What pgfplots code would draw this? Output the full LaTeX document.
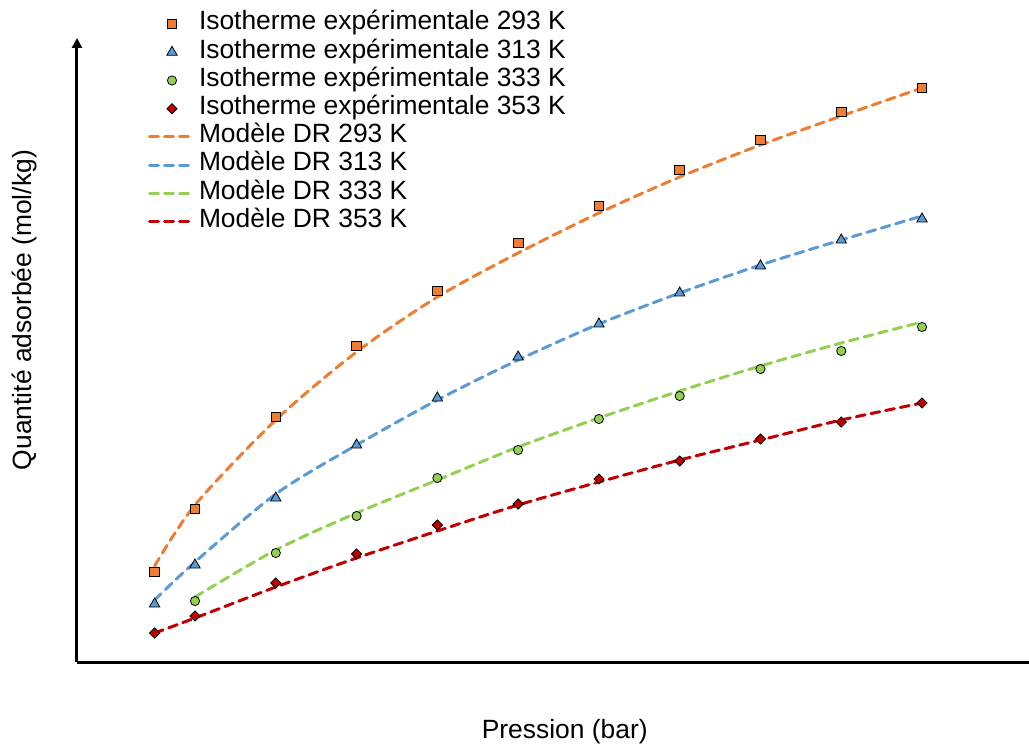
\documentclass[border=0pt]{standalone}
\usepackage{fontspec}
\setmainfont{Liberation Sans}
\usepackage{pgfplots}
\pgfplotsset{compat=1.18}
\usetikzlibrary{arrows.meta}
\definecolor{corange}{HTML}{ED7D31}
\definecolor{cblue}{HTML}{5B9BD5}
\definecolor{cgreen}{HTML}{92D050}
\definecolor{cred}{HTML}{C00000}
\begin{document}
\begin{tikzpicture}
\useasboundingbox (-38.5pt,-41.5pt) rectangle (476pt,331pt);
\begin{axis}[
  at={(0pt,0pt)}, anchor=south west,
  scale only axis, width=481pt, height=312pt,
  xmin=-0.461, xmax=11.448, ymin=0, ymax=62.4,
  axis lines=left,
  axis line style={line width=1.5pt, black},
  every outer x axis line/.append style={-{Triangle[width=5pt,length=5pt]}},
  every outer y axis line/.append style={-{Triangle[width=5pt,length=5pt]}},
  xtick=\empty, ytick=\empty,
  clip=false,
  font=\fontsize{13.2}{15}\selectfont,
  xlabel={Pression (bar)},
  ylabel={Quantité adsorbée (mol/kg)},
  xlabel style={at={(axis description cs:0.507,-0.1218)}, anchor=base, inner sep=0pt},
  ylabel style={at={(axis description cs:-0.047,0.564)}, anchor=base, inner sep=0pt},
  legend image code/.code={\draw[mark repeat=2,mark phase=2,#1] plot coordinates {(0pt,0pt)(11.25pt,0pt)(22.5pt,0pt)};},
  legend style={at={(axis description cs:0.0738,1.0449)}, anchor=north west, draw=none, fill=none,
    inner sep=0pt, outer sep=0pt, row sep=0pt, column sep=1.5pt,
    nodes={inner sep=0pt, outer sep=0pt, text height=10pt, text depth=4.1pt, anchor=west},
    font=\fontsize{13.2}{15}\selectfont},
  legend cell align=left,
  mark options={solid, draw=black, line width=0.5pt},
  dline/.style={line width=1.5pt, dash pattern=on 4.5pt off 3pt, line cap=round, smooth, no marks},
]
% experimental points
\addplot[only marks, mark=square*, mark size=2.4pt, mark options={fill=corange}] coordinates {
(0.5,9.0)(1,15.3)(2,24.5)(3,31.6)(4,37.1)(5,41.9)(6,45.6)(7,49.2)(8,52.2)(9,55.0)(10,57.4)};
\addlegendentry{Isotherme expérimentale 293 K}
\addplot[only marks, mark=triangle*, mark size=3pt, mark options={fill=cblue}] coordinates {
(0.5,5.8)(1,9.7)(2,16.4)(3,21.7)(4,26.4)(5,30.5)(6,33.8)(7,36.9)(8,39.6)(9,42.2)(10,44.3)};
\addlegendentry{Isotherme expérimentale 313 K}
\addplot[only marks, mark=*, mark size=2.3pt, mark options={fill=cgreen}] coordinates {
(1,6.1)(2,10.9)(3,14.6)(4,18.4)(5,21.2)(6,24.3)(7,26.6)(8,29.3)(9,31.1)(10,33.5)};
\addlegendentry{Isotherme expérimentale 333 K}
\addplot[only marks, mark=square*, mark size=1.8pt, mark options={fill=cred, rotate=45}] coordinates {
(0.5,2.9)(1,4.6)(2,7.9)(3,10.8)(4,13.7)(5,15.8)(6,18.3)(7,20.1)(8,22.3)(9,24.0)(10,25.9)};
\addlegendentry{Isotherme expérimentale 353 K}
% DR model
\addplot[dline, corange] coordinates {
(0.5,9.6)(1,15.7)(2,24.2)(3,31.0)(4,36.5)(5,40.9)(6,44.9)(7,48.5)(8,51.7)(9,54.6)(10,57.4)};
\addlegendentry{Modèle DR 293 K}
\addplot[dline, cblue] coordinates {
(0.5,6.2)(1,10.0)(2,16.8)(3,21.7)(4,26.2)(5,30.2)(6,33.8)(7,36.9)(8,39.7)(9,42.2)(10,44.6)};
\addlegendentry{Modèle DR 313 K}
\addplot[dline, cgreen] coordinates {
(1,6.5)(2,11.2)(3,14.9)(4,18.2)(5,21.5)(6,24.4)(7,27.1)(8,29.6)(9,31.9)(10,34.0)};
\addlegendentry{Modèle DR 333 K}
\addplot[dline, cred] coordinates {
(0.5,2.9)(1,4.4)(2,7.5)(3,10.4)(4,13.1)(5,15.7)(6,18.0)(7,20.2)(8,22.2)(9,24.2)(10,25.9)};
\addlegendentry{Modèle DR 353 K}
\end{axis}
\end{tikzpicture}
\end{document}
